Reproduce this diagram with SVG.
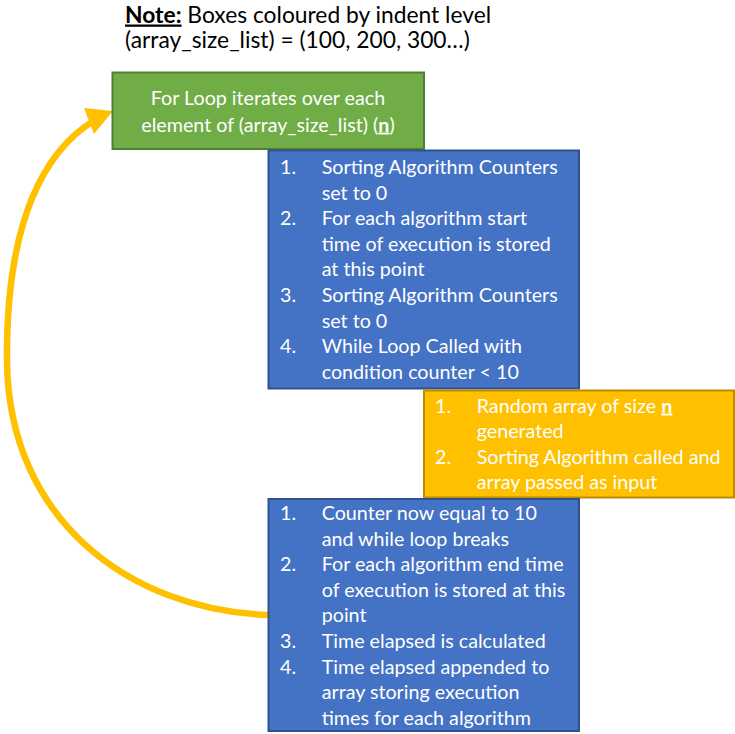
<svg xmlns="http://www.w3.org/2000/svg" width="735" height="734" viewBox="0 0 735 734">
<style>
  .t { font-family: Lato, "Liberation Sans", sans-serif; font-size: 19.7px; fill: #ffffff; }
  .note { font-family: Lato, "Liberation Sans", sans-serif; font-size: 22.8px; fill: #000000; }
  .b { font-weight: bold; text-decoration: underline; }
  .green { fill: #70AD47; stroke: #507E32; stroke-width: 2; }
  .blue { fill: #4472C4; stroke: #2F528F; stroke-width: 2; }
  .yellow { fill: #FFC000; stroke: #BC8C00; stroke-width: 2; }
  .conn { fill: none; stroke: #FFC000; stroke-width: 6.5; }
</style>
<rect width="735" height="734" fill="#ffffff"/>
<g id="note">
  <text class="note" x="125" y="22.5"><tspan class="b">Note:</tspan> Boxes coloured by indent level</text>
  <text class="note" x="125" y="48">(array_size_list) = (100, 200, 300…)</text>
</g>
<g id="connectors">
  <path class="conn" d="M268,615 C130,610 8,520 7,360 C6,220 45,150 95,120"/>
  <polygon points="113,111 84,108 94,134" fill="#FFC000"/>
</g>
<g id="for-loop">
  <rect class="green" x="112.5" y="72.5" width="311.5" height="76.5"/>
  <text class="t" x="268" y="105" text-anchor="middle">For Loop iterates over each</text>
  <text class="t" x="268" y="131.5" text-anchor="middle">element of (array_size_list) (<tspan class="b">n</tspan>)</text>
</g>
<g id="setup">
  <rect class="blue" x="268.5" y="150.5" width="310.5" height="238"/>
  <text class="t" x="280" y="174">1.</text>
  <text class="t" x="321.7" y="174">Sorting Algorithm Counters</text>
  <text class="t" x="321.7" y="199.6">set to 0</text>
  <text class="t" x="280" y="225.2">2.</text>
  <text class="t" x="321.7" y="225.2">For each algorithm start</text>
  <text class="t" x="321.7" y="250.8">time of execution is stored</text>
  <text class="t" x="321.7" y="276.4">at this point</text>
  <text class="t" x="280" y="302">3.</text>
  <text class="t" x="321.7" y="302">Sorting Algorithm Counters</text>
  <text class="t" x="321.7" y="327.6">set to 0</text>
  <text class="t" x="280" y="353.2">4.</text>
  <text class="t" x="321.7" y="353.2">While Loop Called with</text>
  <text class="t" x="321.7" y="378.8">condition counter &lt; 10</text>
</g>
<g id="while-loop">
  <rect class="yellow" x="424" y="390.5" width="310" height="107"/>
  <text class="t" x="435" y="412.5">1.</text>
  <text class="t" x="476.7" y="412.5">Random array of size <tspan class="b">n</tspan></text>
  <text class="t" x="476.7" y="438">generated</text>
  <text class="t" x="435" y="463.5">2.</text>
  <text class="t" x="476.7" y="463.5">Sorting Algorithm called and</text>
  <text class="t" x="476.7" y="489">array passed as input</text>
</g>
<g id="finish">
  <rect class="blue" x="268.5" y="499" width="310.5" height="232"/>
  <text class="t" x="280" y="520">1.</text>
  <text class="t" x="321.7" y="520">Counter now equal to 10</text>
  <text class="t" x="321.7" y="545.6">and while loop breaks</text>
  <text class="t" x="280" y="571.2">2.</text>
  <text class="t" x="321.7" y="571.2">For each algorithm end time</text>
  <text class="t" x="321.7" y="596.8">of execution is stored at this</text>
  <text class="t" x="321.7" y="622.4">point</text>
  <text class="t" x="280" y="648">3.</text>
  <text class="t" x="321.7" y="648">Time elapsed is calculated</text>
  <text class="t" x="280" y="673.6">4.</text>
  <text class="t" x="321.7" y="673.6">Time elapsed appended to</text>
  <text class="t" x="321.7" y="699.2">array storing execution</text>
  <text class="t" x="321.7" y="724.8">times for each algorithm</text>
</g>
</svg>
